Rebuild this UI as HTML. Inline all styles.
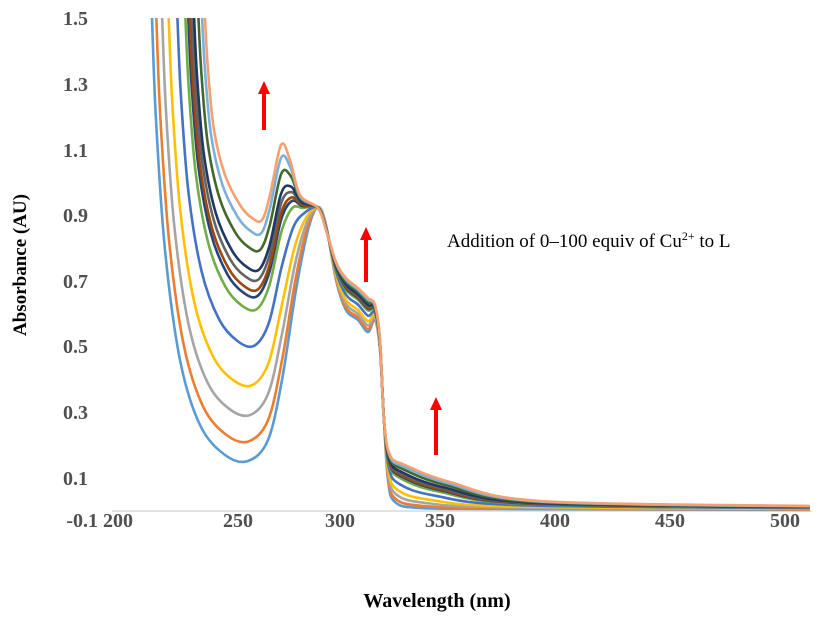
<!DOCTYPE html>
<html><head><style>
body{margin:0;background:#fff;width:838px;height:623px;overflow:hidden}
text{font-family:"Liberation Serif",serif}
.t{font-size:20px;font-weight:bold;fill:#505050}
</style></head><body>
<svg id="s" width="838" height="623" xmlns="http://www.w3.org/2000/svg">
<line x1="112" y1="511" x2="812" y2="511" stroke="#d9d9d9" stroke-width="1.5"/>
<g class="t" text-anchor="end">
<text x="88" y="25">1.5</text><text x="88" y="91">1.3</text><text x="88" y="157">1.1</text>
<text x="88" y="222">0.9</text><text x="88" y="288">0.7</text><text x="88" y="353">0.5</text>
<text x="88" y="419">0.3</text><text x="88" y="485">0.1</text><text x="98" y="527">-0.1</text>
</g>
<g class="t" text-anchor="middle">
<text x="118" y="527">200</text><text x="238" y="527">250</text><text x="340" y="527">300</text>
<text x="440" y="527">350</text><text x="555" y="527">400</text><text x="670" y="527">450</text><text x="785" y="527">500</text>
</g>
<g id="curves" fill="none" stroke-width="2.6"></g>
<g fill="red" stroke="red">
<line x1="264" y1="130" x2="264" y2="92" stroke-width="4"/><polygon points="258,94 270,94 264,81" stroke="none"/>
<line x1="366" y1="282" x2="366" y2="238" stroke-width="4"/><polygon points="360,240 372,240 366,227" stroke="none"/>
<line x1="436" y1="455" x2="436" y2="408" stroke-width="4"/><polygon points="430,410 442,410 436,397" stroke="none"/>
</g>
<text x="447" y="247" font-size="19" fill="#000">Addition of 0–100 equiv of Cu<tspan font-size="12" dy="-7">2+</tspan><tspan dy="7"> to L</tspan></text>
<text transform="translate(26,265) rotate(-90)" text-anchor="middle" font-size="19" font-weight="bold" fill="#000">Absorbance (AU)</text>
<text x="437" y="607" text-anchor="middle" font-size="20" font-weight="bold" fill="#000">Wavelength (nm)</text>
</svg>
<script>
var A=[[152,18],[156,120],[165,250],[180,360],[200,425],[225,455],[248,461],[268,440],[282,380],[296,290],[308,230],[318,207],[326,225],[336,280],[346,310],[358,320],[368,332],[375,320],[380,350],[384,420],[388,480],[395,502],[420,508],[500,509],[810,510]];
var B=[[205,18],[208,70],[214,130],[225,175],[240,205],[252,218],[262,220],[270,195],[281,145],[290,160],[300,195],[318,208],[326,230],[336,262],[346,278],[358,288],[368,298],[375,305],[380,340],[384,420],[390,455],[405,465],[450,482],[540,501],[810,506]];
var mins=[0.16,0.22,0.30,0.39,0.51,0.62,0.66,0.68,0.71,0.74,0.80,0.85,0.89];
var cols=["#5B9BD5","#ED7D31","#A5A5A5","#FFC000","#4472C4","#70AD47","#264478","#9E480E","#636363","#1F3864","#43682B","#7CAFDD","#F4A070"];
var g=document.getElementById('curves'),h='';
for(var i=0;i<mins.length;i++){
 var t=(mins[i]-0.16)/0.73;
 var q=A.map(function(a,k){return [a[0]+(B[k][0]-a[0])*t,a[1]+(B[k][1]-a[1])*t]});
 var d='M'+q[0][0]+','+q[0][1];
 for(var k=0;k<q.length-1;k++){
  var p0=q[k-1]||q[k],p1=q[k],p2=q[k+1],p3=q[k+2]||p2;
  d+=' C'+(p1[0]+(p2[0]-p0[0])/6)+','+(p1[1]+(p2[1]-p0[1])/6)+' '+(p2[0]-(p3[0]-p1[0])/6)+','+(p2[1]-(p3[1]-p1[1])/6)+' '+p2[0]+','+p2[1];
 }
 h+='<path d="'+d+'" stroke="'+cols[i]+'"/>';
}
g.innerHTML=h;
</script>
</body></html>
